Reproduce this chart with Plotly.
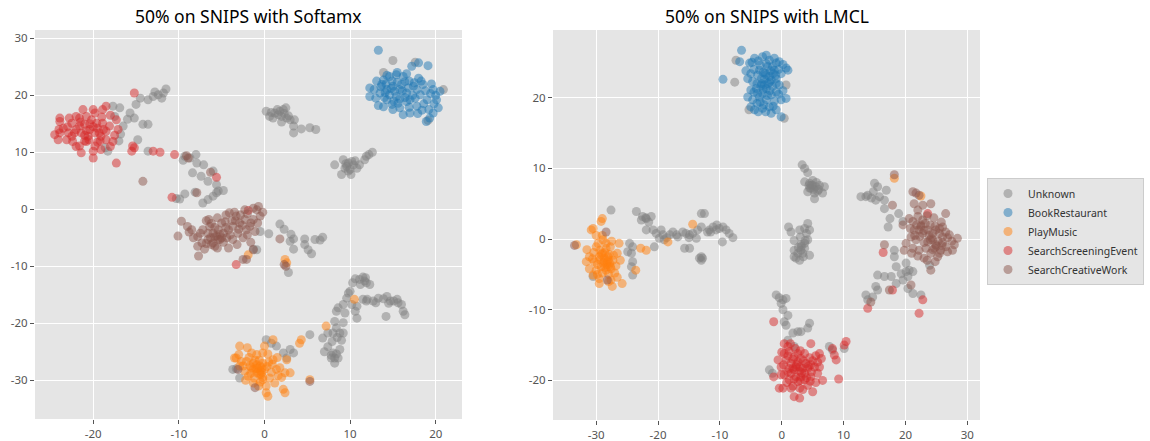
import plotly.graph_objects as go

CLASSES = ["Unknown", "BookRestaurant", "PlayMusic", "SearchScreeningEvent", "SearchCreativeWork"]
COLORS = ["#7f7f7f", "#1f77b4", "#ff7f0e", "#d62728", "#8c564b"]
TITLES = ["50% on SNIPS with Softamx", "50% on SNIPS with LMCL"]

# ---------------- Left panel (Softmax) ----------------
left_unknown = [
    (-17.7, 18.1), (-16.9, 17.8), (-17.5, 16.3), (-16.5, 14.6), (-15.7, 16.9), (-15.2, 16.0), (-15.0, 18.4),
    (-13.6, 19.2), (-13.0, 19.8), (-12.4, 20.1), (-11.8, 20.4), (-11.5, 21.1), (-12.0, 19.5), (-14.2, 14.9),
    (-13.6, 14.9), (-14.8, 12.2), (-18.3, 10.2), (-18.6, 10.8),
    (-16.0, 15.8), (-14.5, 19.5), (-12.8, 20.6), (-17.0, 12.0), (-16.8, 13.2),
    (-13.6, 10.2), (-9.3, 9.3), (-8.7, 9.0), (-8.0, 9.6), (-7.9, 8.1), (-8.4, 6.4), (-7.1, 7.8), (-7.4, 5.8),
    (-6.6, 4.9), (-6.0, 6.7), (-5.6, 4.3), (-5.6, 2.9), (-6.0, 2.3), (-5.4, 3.2), (-4.8, 3.3), (-7.2, 1.1),
    (-8.1, 3.0), (-9.3, 2.7), (-10.3, 1.9), (-9.9, 1.8), (-6.6, 1.7), (-9.5, 8.6),
    (0.2, 17.2), (0.6, 16.3), (1.2, 16.9), (1.8, 17.2), (2.2, 17.5), (2.5, 17.8), (2.0, 16.3), (2.6, 16.0),
    (2.0, 15.3), (3.0, 15.7), (3.5, 15.7), (3.4, 14.6), (3.4, 13.4), (4.3, 14.1), (5.3, 14.3), (6.0, 14.0),
    (1.6, 16.6), (1.0, 16.0), (1.5, 17.5), (2.3, 16.8), (2.8, 16.4), (0.8, 17.0),
    (8.2, 7.8), (9.2, 8.7), (9.8, 8.1), (10.2, 8.4), (10.4, 7.8), (10.0, 7.0), (9.0, 6.1), (10.1, 6.1),
    (11.1, 7.8), (9.6, 7.5), (11.7, 8.7), (12.2, 9.6), (12.6, 10.0), (11.9, 9.3),
    (9.5, 8.0), (10.6, 8.5), (9.4, 7.2), (10.8, 7.2), (9.8, 6.7),
    (0.5, -4.3), (1.8, -2.6), (2.3, -3.5), (3.1, -4.4), (3.0, -5.6), (3.4, -5.2), (3.4, -7.0), (4.7, -5.2),
    (4.7, -6.2), (5.1, -7.1), (5.5, -7.8), (5.9, -5.3), (6.5, -5.4), (6.8, -4.9), (-0.5, -3.9), (-0.9, -7.1),
    (-1.3, -7.0), (2.8, -11.1),
    (10.6, -12.2), (10.3, -12.9), (11.1, -12.3), (11.5, -11.9), (11.7, -12.6), (11.9, -12.9), (12.3, -13.2),
    (10.0, -14.4), (9.8, -14.7), (9.6, -15.6), (10.2, -16.7), (10.8, -17.0), (10.6, -17.9), (10.8, -19.1),
    (11.5, -15.8), (11.9, -16.1), (12.7, -16.1), (13.3, -15.6), (13.9, -15.7), (14.3, -15.3), (14.7, -16.1),
    (15.1, -16.1), (15.6, -16.4), (16.0, -16.7), (16.2, -17.9), (16.4, -18.5), (14.2, -18.8), (9.2, -16.7),
    (8.6, -17.3), (8.4, -17.9), (9.4, -18.2), (9.2, -19.9), (8.4, -20.8), (8.8, -21.7), (8.0, -21.7),
    (7.4, -21.7), (6.8, -22.6), (7.4, -24.1), (7.0, -25.0), (8.0, -25.2), (7.8, -26.1), (8.2, -26.1),
    (8.6, -26.1), (8.2, -27.0), (8.8, -24.6), (9.2, -21.7), (8.2, -19.7), (5.3, -22.0),
    (8.5, -22.5), (9.0, -23.0), (7.9, -23.2), (12.0, -15.8), (13.0, -16.4), (14.5, -16.5), (15.5, -15.8),
    (11.2, -13.2), (11.8, -12.0), (7.8, -25.6), (8.4, -25.4),
    (0.2, -22.9), (0.8, -23.5), (1.4, -24.0), (2.2, -25.2), (3.0, -24.6), (3.4, -25.2), (2.6, -26.1),
    (-3.7, -28.1), (-2.9, -29.6), (-3.3, -28.0),
    (15.0, 26.1), (17.6, 25.8), (13.9, 24.0), (20.9, 21.0), (19.1, 15.6),
]
left_book = [
    (13.3, 27.9), (12.3, 21.3), (13.1, 22.5), (13.9, 22.7), (14.6, 23.3), (15.4, 23.6), (16.2, 23.3),
    (17.2, 25.1), (18.0, 25.7), (19.1, 25.2), (18.0, 23.0), (18.5, 21.9), (19.7, 21.0), (20.5, 20.7),
    (20.1, 19.2), (20.3, 17.8), (19.7, 16.9), (19.3, 16.0), (18.9, 15.4), (13.3, 18.2), (12.3, 19.8),
    (14.3, 19.2), (14.9, 18.4), (16.2, 16.6), (17.0, 16.9), (17.8, 18.1), (15.8, 21.0), (15.0, 21.6),
    (16.6, 20.4), (17.4, 21.6), (14.3, 21.0), (15.4, 19.8), (13.5, 20.4), (16.0, 21.9), (17.0, 19.2),
    (18.2, 20.1), (19.0, 19.2), (15.6, 18.6), (13.7, 21.9), (14.9, 22.5), (16.6, 18.9), (17.8, 21.0),
    (14.6, 20.1), (15.2, 20.7), (16.4, 22.4), (15.8, 19.4), (17.3, 20.0), (14.0, 19.6), (16.9, 22.5),
    (12.8, 21.0), (13.6, 21.5), (14.2, 22.0), (14.8, 21.2), (15.5, 22.3), (16.1, 20.8), (16.8, 21.3),
    (17.5, 22.2), (18.3, 22.5), (18.8, 20.8), (19.4, 20.3), (19.8, 18.5), (18.6, 18.5), (17.6, 19.5),
    (16.4, 19.6), (15.1, 19.0), (14.1, 20.5), (13.0, 19.5), (15.8, 17.8), (16.9, 17.9), (17.9, 16.8),
    (18.4, 17.4), (19.5, 22.0), (15.5, 24.0), (16.6, 23.8), (14.3, 23.5), (13.9, 18.0), (15.0, 17.5),
    (19.2, 17.5), (20.0, 20.0),
]
left_music = [
    (-0.5, -27.5), (-0.9, -27.3), (-0.2, -27.0), (-1.3, -27.0), (-0.5, -28.4), (0.0, -28.1), (-0.9, -28.7),
    (-1.7, -27.5), (-2.1, -26.7), (-1.5, -25.2), (-2.9, -24.0), (-3.5, -26.1), (-2.7, -26.7), (-2.3, -28.4),
    (-1.9, -29.3), (-1.3, -30.5), (-0.7, -31.0), (0.2, -31.0), (-0.2, -29.9), (0.6, -29.6), (1.0, -26.4),
    (1.4, -28.1), (1.8, -27.8), (2.4, -28.7), (3.0, -28.7), (2.6, -26.4), (1.0, -22.9), (-0.2, -25.2),
    (-2.9, -27.5), (-3.3, -26.1), (0.4, -32.8), (0.2, -32.2), (2.2, -31.6), (2.4, -32.2), (-1.3, -28.1),
    (-0.4, -29.0), (5.3, -29.9), (4.1, -23.5), (4.3, -22.9), (7.2, -20.5), (10.5, -15.8), (-1.9, -8.0),
    (2.4, -8.8), (2.6, -9.4), (-0.8, -27.9), (-0.3, -28.6), (-1.1, -26.5), (0.3, -27.6),
    (-1.0, -28.0), (-0.6, -26.5), (0.5, -26.8), (0.8, -28.6), (-0.2, -29.5), (-1.6, -28.8), (-2.5, -27.5),
    (-1.8, -26.0), (-0.9, -25.5), (0.4, -25.4), (1.5, -26.0), (2.0, -29.5), (1.2, -30.5), (-0.5, -30.3),
    (-2.2, -30.0), (-3.0, -25.5), (-2.0, -24.3), (0.0, -24.0), (1.6, -29.2), (-0.3, -27.8), (-1.2, -29.6),
    (0.9, -27.2), (-0.6, -28.9), (-1.5, -27.8),
]
left_screen = [
    (-24.5, 13.1), (-23.9, 13.4), (-24.1, 12.2), (-23.9, 16.0), (-23.9, 15.4), (-22.9, 13.4), (-22.5, 15.1),
    (-22.4, 11.9), (-21.6, 14.6), (-21.6, 16.0), (-21.4, 13.4), (-21.2, 17.5), (-21.6, 11.1), (-21.4, 9.9),
    (-20.0, 9.0), (-19.8, 11.1), (-20.4, 14.0), (-19.6, 15.1), (-19.8, 16.9), (-18.9, 17.5), (-18.5, 18.1),
    (-19.3, 13.4), (-18.5, 12.2), (-19.1, 10.5), (-17.7, 11.9), (-17.3, 8.1), (-17.1, 14.0), (-17.3, 15.7),
    (-18.1, 14.6), (-20.6, 12.8), (-19.8, 13.4), (-20.2, 15.7), (-20.8, 16.3), (-22.2, 13.4), (-22.5, 12.8),
    (-19.1, 12.8), (-18.5, 13.7), (-18.9, 15.1), (-20.8, 11.9), (-23.1, 12.2), (-22.0, 16.3), (-15.2, 20.4),
    (-15.4, 11.1), (-15.2, 10.8), (-15.5, 10.2), (-13.0, 10.2), (-12.2, 10.0), (-10.5, 9.6), (-10.8, 2.1),
    (-5.6, 5.6), (-3.3, -9.7), (-1.9, -0.2), (-20.0, 14.5), (-21.0, 14.9), (-19.5, 14.2), (-20.4, 15.0),
    (-23.0, 14.5), (-22.0, 14.0), (-21.0, 13.0), (-20.5, 12.2), (-19.5, 11.8), (-18.8, 14.0), (-18.0, 16.5),
    (-19.0, 16.2), (-20.0, 17.5), (-21.5, 15.3), (-22.8, 16.0), (-23.5, 14.2), (-20.0, 10.2), (-18.0, 11.0),
    (-17.5, 13.0), (-21.0, 12.0), (-22.0, 11.0), (-20.8, 13.8), (-19.2, 12.0), (-24.0, 14.0),
]
left_creative = [
    (-9.1, 9.4), (-8.9, 9.0), (-7.9, 2.9), (-6.3, 6.5), (-14.2, 4.9),
    (-10.1, -4.7), (-9.7, -2.1), (-8.5, -3.6), (-7.7, -8.2), (-7.5, -4.2), (-7.3, -5.9), (-6.6, -5.3),
    (-6.5, -1.8), (-6.0, -4.2), (-5.8, -6.5), (-5.4, -3.6), (-5.2, -5.3), (-4.8, -4.2), (-4.4, -5.0),
    (-4.2, -6.8), (-4.1, -0.6), (-3.7, -3.0), (-3.3, -1.2), (-3.1, -4.2), (-2.9, -2.4), (-2.3, -1.8),
    (-2.1, -3.6), (-1.7, -3.0), (-1.3, -1.8), (-0.9, -0.1), (-0.7, 0.5), (-0.5, -1.2), (-1.1, -3.9),
    (-2.5, -5.0), (-7.2, -3.6), (-6.4, -3.0), (-5.6, -4.7), (-5.0, -2.4), (-6.0, -5.9), (-6.6, -4.2),
    (-5.4, -5.3), (-3.7, -5.3), (-4.2, -3.6), (-2.3, -0.1), (-1.3, 0.2), (-1.3, -7.1), (-2.1, -8.8),
    (-2.5, -8.8), (2.3, -9.7), (2.5, -10.0), (5.3, -30.2), (1.8, -5.2), (-1.1, -31.3), (-3.1, -28.1),
    (-5.8, -4.8), (-5.2, -4.4), (-4.6, -2.2), (-6.2, -6.2), (-3.4, -2.0),
    (-9.0, -3.0), (-8.3, -5.0), (-7.8, -6.5), (-7.0, -7.0), (-6.2, -2.5), (-5.5, -1.5), (-4.5, -1.0),
    (-3.5, -0.5), (-2.8, -1.0), (-2.0, -0.8), (-1.6, -2.4), (-0.8, -2.4), (-0.2, -0.5), (-3.0, -3.5),
    (-4.0, -4.5), (-4.8, -5.8), (-5.5, -6.8), (-6.8, -6.0), (-7.8, -4.8), (-8.8, -4.0), (-3.2, -6.2),
    (-2.0, -4.5), (-1.6, -5.8), (-4.5, -3.2), (-5.8, -3.2), (-6.8, -2.0), (-3.8, -2.0), (-2.6, -2.8),
    (-5.0, -5.0), (-6.3, -5.0),
]

# ---------------- Right panel (LMCL) ----------------
right_unknown = [
    (-7.4, 25.3), (-7.6, 22.2), (-5.3, 18.3), (0.4, 17.1), (0.7, 21.8),
    (-27.6, 4.1), (-30.5, -5.3),
    (-23.5, 3.9), (-22.5, 3.2), (-22.7, 2.7), (-21.9, 2.9), (-21.1, 3.2), (-21.9, 1.3), (-20.8, 1.3),
    (-20.3, 0.8), (-19.5, 1.3), (-19.2, 0.6), (-19.8, 0.1), (-19.0, -0.1), (-18.1, 0.6), (-17.6, 1.0),
    (-16.8, 0.3), (-16.0, 1.0), (-15.5, 0.8), (-14.9, 0.6), (-14.4, 0.8), (-13.8, 0.1), (-13.6, 1.3),
    (-13.0, 1.7), (-13.0, 3.6), (-12.5, 3.6), (-11.7, 1.3), (-11.1, 1.7), (-10.6, 1.3), (-10.1, 1.5),
    (-9.5, 1.7), (-9.0, 1.3), (-8.5, 0.8), (-7.9, 0.2), (-9.6, -0.4), (-13.0, -2.5), (-13.3, -2.7),
    (-13.0, -3.0), (-14.9, -1.3), (-15.7, -1.3), (-20.6, -1.1), (-24.1, -1.1), (-24.6, -0.6),
    (-24.1, -3.2), (-24.3, -3.9), (-24.1, -5.1), (-24.9, -1.8), (-24.3, -2.0), (-12.0, 1.0), (-18.6, 0.2),
    (-21.5, 2.4), (-22.0, 3.0), (-17.0, 0.6), (-15.0, 0.2), (-11.5, 1.0), (-10.5, 2.0), (-12.8, -2.7),
    (3.3, 10.5), (3.7, 10.0), (4.2, 9.4), (3.7, 8.1), (4.5, 7.9), (5.0, 8.3), (5.5, 7.4), (4.7, 7.2),
    (4.2, 6.7), (5.3, 6.5), (6.1, 7.6), (6.9, 7.4), (6.6, 6.5), (5.3, 5.7), (4.5, 7.2), (5.0, 7.6),
    (4.8, 7.6), (5.2, 7.0), (5.8, 6.8), (4.4, 7.6), (5.6, 8.0), (6.0, 7.0),
    (1.1, 1.7), (1.5, 1.0), (2.9, 1.3), (3.7, 1.5), (4.2, 2.2), (4.5, 1.3), (4.0, 0.8), (4.2, -0.1),
    (3.7, -0.6), (3.1, -0.8), (2.0, -0.2), (2.0, -1.6), (2.6, -2.0), (3.1, -1.6), (3.4, -2.0), (3.7, -1.3),
    (4.5, -2.3), (2.3, -2.7), (2.9, -3.0), (2.0, -2.5),
    (3.2, -1.0), (3.5, -2.5), (2.7, -1.2), (3.8, -0.2), (3.0, 0.3),
    (-0.9, -7.9), (-0.4, -8.3), (0.2, -8.6), (0.7, -8.4), (-0.1, -9.1), (0.2, -10.0), (1.0, -10.8),
    (0.4, -11.7), (0.7, -12.2), (1.8, -13.3), (2.6, -13.1), (3.1, -13.1), (4.2, -12.6), (4.5, -11.9),
    (1.0, -14.3), (2.0, -15.2), (-2.0, -18.5), (-1.5, -19.0), (7.7, -15.2), (8.2, -15.7), (10.1, -15.5),
    (12.8, 6.0), (13.6, 6.0), (13.9, 6.2), (15.0, 7.9), (15.5, 7.4), (14.8, 6.7), (14.5, 5.8), (15.8, 6.0),
    (15.2, 5.5), (16.9, 6.9), (16.6, 5.5), (16.6, 4.3), (17.5, 2.9), (17.2, 1.7), (18.9, 3.6), (19.6, 2.5),
    (18.5, -3.9), (19.3, -4.9), (20.1, -4.6), (20.6, -4.4), (20.1, -3.4), (21.2, -4.6), (20.4, -5.3),
    (19.6, -5.8), (18.5, -6.3), (17.7, -5.3), (16.6, -5.3), (15.5, -5.1), (15.2, -6.7), (15.5, -7.2),
    (14.7, -8.2), (13.6, -7.9), (13.9, -8.6), (20.4, -7.0), (21.2, -7.7), (22.5, -7.9), (23.9, -3.7),
    (18.2, -2.5), (18.2, -1.6),
]
right_book = [
    (-6.5, 26.7), (-6.8, 25.1), (-5.2, 24.9), (-4.4, 25.6), (-3.1, 25.8), (-2.0, 25.3), (-0.9, 24.9),
    (-0.4, 25.1), (0.7, 24.2), (1.0, 23.9), (-0.1, 23.4), (-1.2, 23.9), (-2.3, 24.4), (-3.6, 23.9),
    (-5.0, 23.4), (-5.5, 22.7), (-4.7, 22.3), (-3.3, 22.7), (-2.5, 23.2), (-1.7, 22.5), (-0.9, 22.7),
    (-0.4, 21.8), (-1.5, 21.6), (-2.8, 21.8), (-4.1, 21.3), (-5.0, 21.1), (-5.5, 20.1), (-4.7, 19.7),
    (-3.6, 20.1), (-2.5, 19.7), (-1.7, 20.4), (-0.9, 20.8), (-0.1, 19.7), (0.7, 19.9), (-0.9, 18.3),
    (-2.0, 18.7), (-3.1, 18.5), (-4.4, 18.3), (-5.0, 18.7), (-1.7, 17.8), (-0.1, 17.3), (-9.5, 22.6),
    (-3.3, 22.0), (-3.9, 23.2), (-2.5, 21.3), (-3.9, 20.6), (-3.1, 20.6), (-2.0, 23.0), (-0.9, 22.0),
    (-2.8, 22.6), (-2.2, 22.0), (-3.0, 23.6), (-1.4, 23.4),
    (-4.5, 24.0), (-3.5, 24.6), (-2.5, 24.8), (-1.5, 24.4), (-0.5, 24.0), (-1.0, 23.2), (-2.0, 22.2),
    (-3.0, 21.2), (-4.0, 22.0), (-4.5, 20.8), (-3.5, 19.4), (-2.3, 20.3), (-1.2, 19.5), (-0.5, 20.5),
    (-1.9, 21.0), (-2.9, 19.0), (-4.0, 19.2), (-1.4, 18.8), (-2.6, 18.0), (-3.8, 18.0), (0.2, 21.0),
    (-5.8, 23.8), (-4.8, 25.0), (-3.8, 25.2), (-2.5, 26.0), (-1.2, 25.6), (0.2, 24.7), (-3.4, 21.7),
    (-1.8, 23.8), (-2.7, 23.5),
]
right_music = [
    (-33.2, -0.8), (-30.8, 1.3), (-30.5, 1.5), (-29.2, 2.5), (-29.0, 2.9), (-30.0, -1.1), (-29.7, -0.6),
    (-31.1, -2.5), (-31.6, -3.2), (-31.1, -4.2), (-30.3, -3.2), (-29.5, -2.5), (-29.0, -2.0), (-28.4, -1.3),
    (-28.1, -2.5), (-28.7, -3.2), (-27.8, -3.4), (-27.6, -4.2), (-28.4, -4.4), (-29.2, -3.9), (-30.0, -4.4),
    (-30.5, -5.1), (-29.5, -5.6), (-29.5, -6.3), (-27.6, -5.8), (-27.4, -6.7), (-25.8, -6.3), (-26.1, -3.0),
    (-26.6, -2.0), (-27.7, -1.1), (-28.4, -0.6), (-26.3, -0.6), (-23.6, -4.4), (-22.8, -1.3), (-21.9, -1.6),
    (-18.4, -0.4), (-14.4, 2.1), (-27.3, -3.0), (-28.1, -3.9), (-28.7, -2.7), (-28.9, -0.1), (-28.3, -3.6),
    (-27.9, -2.2), (18.2, 8.6), (22.5, 6.1),
    (-28.0, -3.0), (-28.6, -1.9), (-29.4, -1.6), (-29.8, -3.6), (-30.6, -2.8), (-29.0, -4.8), (-28.0, -5.0),
    (-27.0, -4.8), (-26.8, -3.8), (-27.2, -2.3), (-28.6, -4.0), (-29.4, -2.9), (-30.4, -1.9), (-27.5, -0.3),
    (-29.0, 0.5), (-30.0, 0.5), (-28.0, -6.0), (-26.6, -5.4), (-31.5, -1.5), (-29.8, -5.0), (-28.2, -3.2),
    (-27.7, -3.9), (-28.9, -3.4), (-29.2, -2.2),
]
right_screen = [
    (0.4, -14.8), (1.0, -15.2), (0.4, -16.2), (1.2, -15.9), (-0.6, -17.1), (-0.1, -18.1), (0.7, -17.1),
    (1.5, -17.6), (2.0, -16.7), (2.6, -17.4), (3.1, -16.9), (3.7, -16.2), (3.9, -17.6), (2.9, -18.1),
    (2.0, -18.5), (1.5, -19.0), (2.3, -19.5), (3.1, -19.5), (3.7, -19.0), (4.2, -18.3), (4.7, -17.8),
    (5.3, -18.1), (5.8, -17.4), (6.1, -18.1), (6.4, -16.9), (6.1, -16.2), (0.4, -19.2), (-0.1, -19.2),
    (1.2, -19.9), (2.6, -20.2), (3.7, -19.9), (4.7, -19.5), (5.5, -20.3), (6.6, -20.0), (5.0, -21.6),
    (4.2, -20.7), (2.9, -21.1), (2.0, -22.3), (2.9, -22.5), (1.5, -21.1), (-0.4, -21.1), (0.2, -21.1),
    (-1.3, -19.5), (-1.3, -11.7), (4.7, -14.8), (8.2, -15.5), (8.5, -16.4), (8.8, -17.1), (10.4, -14.5),
    (10.1, -15.0), (9.2, -19.8), (3.4, -18.3), (2.3, -18.1), (1.8, -18.3), (2.9, -18.7), (1.2, -18.3),
    (16.4, -1.9), (17.9, -7.2), (13.9, -9.8), (22.8, -8.6), (22.2, -10.5), (23.6, 3.6),
    (1.0, -16.5), (1.8, -17.0), (2.6, -16.2), (3.5, -17.2), (4.5, -16.8), (5.0, -17.2), (0.3, -17.8),
    (1.0, -18.8), (2.0, -19.8), (3.0, -20.0), (4.0, -19.6), (4.8, -18.8), (5.8, -19.0), (0.8, -20.3),
    (1.8, -20.8), (3.4, -21.3), (4.6, -20.1), (2.4, -17.8), (3.2, -18.9), (4.3, -18.0), (0.0, -16.0),
    (1.4, -14.8), (2.2, -15.5), (3.0, -15.8), (5.5, -16.5),
]
right_creative = [
    (-33.5, -0.9), (-28.4, 1.0), (-28.2, -5.8),
    (20.6, 2.9), (21.2, 2.5), (22.0, 3.2), (22.8, 2.7), (22.2, 1.3), (21.4, 1.3), (20.9, 0.3), (21.7, -0.1),
    (22.8, 0.8), (23.6, 1.3), (24.4, 0.8), (24.9, 1.3), (25.5, 0.8), (26.0, 0.3), (26.5, 1.0), (27.1, 0.6),
    (28.4, 0.1), (27.9, -0.8), (26.5, -1.1), (25.7, -1.6), (24.9, -0.8), (24.4, -0.1), (23.6, -0.4),
    (23.3, -1.3), (24.1, -2.0), (25.2, -2.5), (23.0, -2.7), (22.2, -1.6), (21.2, -1.3), (19.8, -1.6),
    (20.1, -0.6), (22.0, 4.1), (22.8, 4.8), (24.1, 5.0), (26.5, 3.6), (24.1, -4.4), (21.4, 5.0), (19.6, 2.0),
    (26.0, 1.7), (27.6, -1.6), (21.2, 6.7), (21.7, 6.5), (22.2, 6.2), (17.9, 4.8), (16.6, -0.8),
    (17.4, -7.2), (14.4, -8.9), (20.9, -6.5), (24.0, -0.1), (24.7, -1.3), (18.2, 9.1), (25.3, -0.3),
    (23.8, 0.5), (25.9, -0.9), (22.5, 2.0),
    (21.8, 2.0), (22.5, 1.8), (23.2, 2.2), (24.0, 2.0), (24.8, 1.8), (25.5, 1.5), (26.8, 0.2), (26.0, -0.5),
    (25.0, -1.0), (24.4, -1.5), (23.0, -0.5), (22.3, 0.4), (21.5, 0.5), (20.8, 1.5), (23.5, 3.3), (24.6, 3.0),
    (25.8, 2.4), (27.5, -0.3), (26.8, -1.8), (25.5, -2.0), (24.8, -3.2), (23.5, -3.0), (22.0, -2.4),
    (21.0, -2.0), (24.2, 0.2), (23.0, 1.2),
]

panels = [
    [left_unknown, left_book, left_music, left_screen, left_creative],
    [right_unknown, right_book, right_music, right_screen, right_creative],
]
X_TICKS = [[-20, -10, 0, 10, 20], [-30, -20, -10, 0, 10, 20, 30]]
Y_TICKS = [[-30, -20, -10, 0, 10, 20, 30], [-20, -10, 0, 10, 20]]
X_RANGES = [[-26.8, 23.07], [-36.98, 32.05]]
Y_RANGES = [[-36.8, 31.46], [-25.6, 29.58]]

FONT = "Noto Sans, DejaVu Sans, sans-serif"

fig = go.Figure()
for p, data in enumerate(panels):
    sfx = "" if p == 0 else "2"
    for ci, pts in enumerate(data):
        xs = [a for a, b in pts]
        ys = [b for a, b in pts]
        fig.add_trace(go.Scatter(
            x=xs, y=ys, mode="markers", name=CLASSES[ci],
            legendgroup=CLASSES[ci], showlegend=(p == 1),
            xaxis="x" + sfx, yaxis="y" + sfx,
            marker=dict(size=9, color=COLORS[ci], opacity=0.5, line=dict(width=0)),
        ))

W, H = 1150, 441
doms_x = [[35 / W, 462 / W], [553 / W, 980 / W]]
doms_y = [[1 - 419 / H, 1 - 30 / H], [1 - 420 / H, 1 - 30 / H]]

def axis_common():
    return dict(showgrid=True, gridcolor="white", gridwidth=1, zeroline=False,
                ticks="outside", ticklen=4, tickcolor="#555555", tickwidth=1,
                tickfont=dict(family=FONT, size=11.5, color="#555555"),
                showline=False, mirror=False, automargin=False)

layout = dict(width=W, height=H, paper_bgcolor="white", plot_bgcolor="#e5e5e5",
              margin=dict(l=0, r=0, t=0, b=0), showlegend=True)
for p in range(2):
    sfx = "" if p == 0 else "2"
    xa = axis_common()
    xa.update(domain=doms_x[p], range=X_RANGES[p], tickvals=X_TICKS[p],
              ticktext=[str(v) for v in X_TICKS[p]], anchor="y" + sfx)
    ya = axis_common()
    ya.update(domain=doms_y[p], range=Y_RANGES[p], tickvals=Y_TICKS[p],
              ticktext=[str(v) for v in Y_TICKS[p]], anchor="x" + sfx)
    layout["xaxis" + sfx] = xa
    layout["yaxis" + sfx] = ya

fig.update_layout(**layout)
fig.update_layout(
    legend=dict(x=987 / W, y=1 - 178 / H, xanchor="left", yanchor="top",
                bgcolor="#e5e5e5", bordercolor="#cccccc", borderwidth=1,
                font=dict(family=FONT, size=10.5, color="#333333"),
                itemsizing="trace", tracegroupgap=0, itemwidth=30),
)
for p in range(2):
    cx = (doms_x[p][0] + doms_x[p][1]) / 2
    fig.add_annotation(text=TITLES[p], x=cx, y=1 - 16 / H, xref="paper", yref="paper",
                       xanchor="center", yanchor="middle", showarrow=False,
                       font=dict(family=FONT, size=17.5, color="black"))

fig.write_html("out.html", post_script="document.body.style.margin='0';",
               config={"displayModeBar": False})
